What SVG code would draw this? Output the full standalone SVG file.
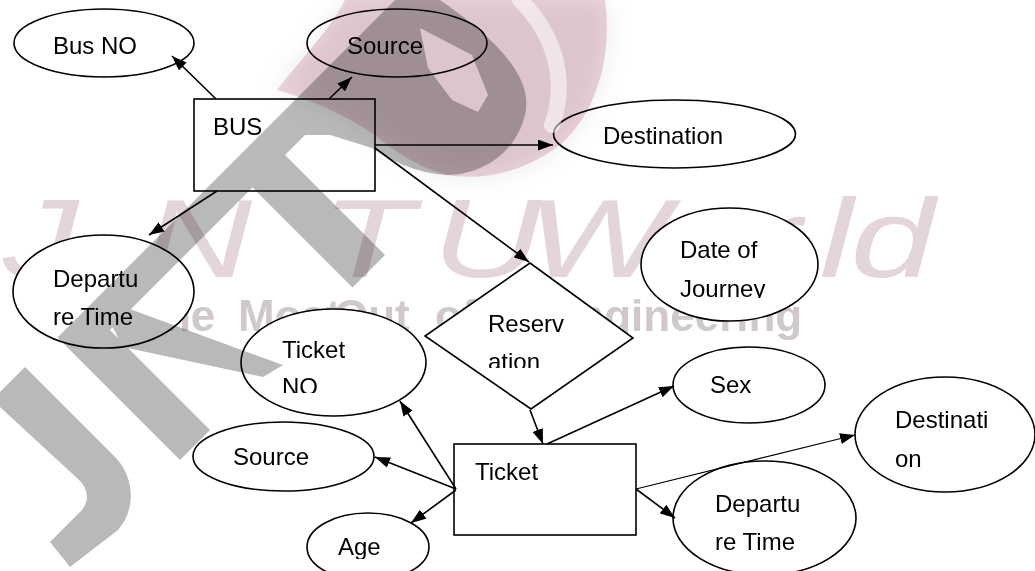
<svg xmlns="http://www.w3.org/2000/svg" width="1035" height="571" viewBox="0 0 1035 571">
<style>
.n{fill:#fff;stroke:#000;stroke-width:1.6}
.t{font-family:"Liberation Sans",Arial,sans-serif;font-size:24px;fill:#000}
.c{stroke:#000;stroke-width:1.6;fill:none;marker-end:url(#ah)}
.mb{mix-blend-mode:multiply}
.wm1{font-family:"Liberation Sans",Arial,sans-serif;font-style:italic;font-size:112px;fill:#e4d4db}
.wm2{font-family:"Liberation Sans",Arial,sans-serif;font-weight:bold;font-size:44px;fill:#d0c8cc}
</style>
<defs>
<marker id="ah" viewBox="0 0 15 11" refX="15" refY="5.5" markerWidth="15" markerHeight="11" markerUnits="userSpaceOnUse" orient="auto"><path d="M0,0 L15,5.5 L0,11 Z" fill="#000"/></marker>
<clipPath id="cJ"><rect x="600" y="200" width="250" height="98"/></clipPath>
<clipPath id="cA"><rect x="420" y="250" width="220" height="118"/></clipPath>
<clipPath id="cN"><rect x="240" y="300" width="200" height="93"/></clipPath>
<clipPath id="cG"><rect x="300" y="500" width="140" height="59"/></clipPath>
<filter id="bl" x="-20%" y="-20%" width="140%" height="140%"><feGaussianBlur stdDeviation="12"/></filter>
</defs>
<rect width="1035" height="571" fill="#fff"/>
<g id="watermark-text">
<text class="wm1" transform="scale(1.35,1)" x="2 106 238 320 370 390 496 556 607 630" y="277">JNTU World</text>
<text class="wm2" x="137" y="331">The</text>
<text class="wm2" x="238" y="331">Most</text>
<text class="wm2" x="334" y="331">Out</text>
<text class="wm2" x="435" y="331">of</text>
<text class="wm2" x="548" y="331">Engineering</text>
</g>
<g id="bus-no"><ellipse class="n" cx="104" cy="43" rx="90" ry="34"/><text class="t" x="53" y="54">Bus NO</text></g>
<g id="bus-source"><ellipse class="n" cx="397" cy="43" rx="90" ry="34"/><text class="t" x="347" y="54">Source</text></g>
<g id="bus"><rect class="n" x="194" y="99" width="181" height="92"/><text class="t" x="213" y="135">BUS</text></g>
<g id="bus-destination"><ellipse class="n" cx="674.5" cy="134" rx="121" ry="34"/><text class="t" x="603" y="144">Destination</text></g>
<g id="bus-departure"><ellipse class="n" cx="103.5" cy="291.5" rx="90.5" ry="56.5"/><text class="t" x="53" y="287">Departu</text><text class="t" x="53" y="325">re Time</text></g>
<g id="date-of-journey"><ellipse class="n" cx="729.5" cy="264.5" rx="88.5" ry="56.5"/><text class="t" x="680" y="258">Date of</text><text class="t" x="680" y="297" clip-path="url(#cJ)">Journey</text></g>
<g id="reservation"><polygon class="n" points="530,263 633,338 531,409 425,336"/><text class="t" x="488" y="332">Reserv</text><text class="t" x="488" y="370" clip-path="url(#cA)">ation</text></g>
<g id="ticket-no"><ellipse class="n" cx="333.5" cy="362.5" rx="92.5" ry="53.5"/><text class="t" x="282" y="358">Ticket</text><text class="t" x="282" y="395" clip-path="url(#cN)">NO</text></g>
<g id="ticket-source"><ellipse class="n" cx="283.5" cy="456.5" rx="90.5" ry="34.5"/><text class="t" x="233" y="465">Source</text></g>
<g id="age"><ellipse class="n" cx="368" cy="547" rx="61" ry="34"/><text class="t" x="338" y="555" clip-path="url(#cG)">Age</text></g>
<g id="ticket"><rect class="n" x="454" y="444" width="182" height="91"/><text class="t" x="475" y="480">Ticket</text></g>
<g id="sex"><ellipse class="n" cx="749" cy="385" rx="76" ry="38"/><text class="t" x="710" y="393">Sex</text></g>
<g id="ticket-destination"><ellipse class="n" cx="945" cy="434.5" rx="90" ry="57.5"/><text class="t" x="895" y="428">Destinati</text><text class="t" x="895" y="467">on</text></g>
<g id="ticket-departure"><ellipse class="n" cx="764.5" cy="518" rx="91.5" ry="57"/><text class="t" x="715" y="512">Departu</text><text class="t" x="715" y="550">re Time</text></g>
<g id="connectors">
<line class="c" x1="216" y1="99" x2="172" y2="56"/>
<line class="c" x1="329" y1="99" x2="352" y2="77"/>
<line class="c" x1="217" y1="191" x2="149" y2="235"/>
<line class="c" x1="375" y1="145" x2="553" y2="145"/>
<line class="c" x1="375" y1="148" x2="529" y2="262"/>
<line class="c" x1="530" y1="410" x2="543" y2="444"/>
<line class="c" x1="547" y1="444" x2="674" y2="386"/>
<line class="c" x1="456" y1="489" x2="400" y2="401"/>
<line class="c" x1="456" y1="489" x2="375" y2="457"/>
<line class="c" x1="456" y1="490" x2="411" y2="523"/>
<line class="c" x1="636" y1="489" x2="855" y2="435" style="stroke-width:1.2"/>
<line class="c" x1="636" y1="489" x2="675" y2="518"/>
</g>
<g id="watermark-logo">
<path class="mb" d="M277,90 C300,60 330,30 345,0 L605,0 C612,50 600,110 560,145 C520,175 480,180 447,175 Q410,165 375,135 Q330,105 277,90 Z" fill="#000" fill-opacity="0.08" filter="url(#bl)"/>
<path class="mb" d="M277,90 C300,60 330,30 345,0 L605,0 C612,50 600,110 560,145 C520,175 480,180 447,175 Q410,165 375,135 Q330,105 277,90 Z" fill="#efd6e0"/>
<path d="M520,0 C555,35 568,80 552,125" fill="none" stroke="#fff" stroke-opacity="0.55" stroke-width="16" stroke-linecap="round"/>
<path class="mb" fill="#b9b9b9" fill-rule="nonzero" d="M395,0 L440,0 L110,330 L210,430 L180,460 L57.5,337.5 Z M285,155 L385,255 L352.5,287.5 L252.5,187.5 Z M97,297 L283,365 L263,377 L123,347 Z M0,392 L25,367 L115,457 C135,477 136,510 118,530 L70,567 L50,542 L82,510 C90,500 88,488 78,479 L0,407 Z M440,0 C490,35 535,75 525,115 C515,155 480,175 447,175 C415,173 390,160 372,148 L330,135 L305,135 Z M420,28 L428,68 L452,100 L478,112 L488,95 L472,55 Z"/>
</g>
</svg>
